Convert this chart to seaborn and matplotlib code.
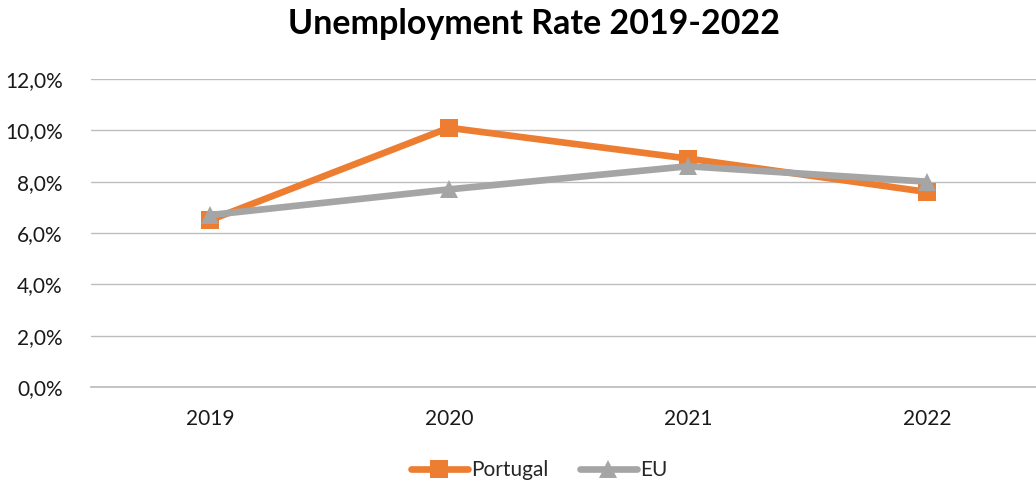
import matplotlib
matplotlib.use("Agg")
import matplotlib.pyplot as plt
import seaborn as sns
import pandas as pd
from matplotlib.ticker import FuncFormatter

years = ["2019", "2020", "2021", "2022"]
portugal = [6.5, 10.1, 8.9, 7.6]
eu = [6.7, 7.7, 8.6, 8.0]
series_names = ["Portugal", "EU"]
title = "Unemployment Rate 2019-2022"

df = pd.DataFrame({
    "year": years * 2,
    "rate": portugal + eu,
    "series": [series_names[0]] * 4 + [series_names[1]] * 4,
})

sns.set_theme(style="white")
plt.rcParams["font.family"] = ["Lato", "DejaVu Sans"]

fig = plt.figure(figsize=(10.36, 4.84), dpi=100)
ax = fig.add_axes([90.5 / 1036, 1 - 387 / 484, 956 / 1036, (387 - 79) / 484])

colors = {"Portugal": "#ED7D31", "EU": "#A5A5A5"}
sns.lineplot(data=df, x="year", y="rate", hue="series", style="series",
             markers={"Portugal": "s", "EU": "^"}, dashes=False,
             palette=colors, linewidth=4.8, markersize=12.5,
             markeredgewidth=0, ax=ax, sort=False)

ax.set_xlim(-0.5, 3.5)
ax.set_ylim(0, 12)
ax.set_yticks([0, 2, 4, 6, 8, 10, 12])
ax.yaxis.set_major_formatter(FuncFormatter(lambda v, p: f"{v:.1f}%".replace(".", ",")))
ax.grid(axis="y", color="#BDBDBD", linewidth=1)
ax.grid(axis="x", visible=False)
for s in ["top", "right", "left"]:
    ax.spines[s].set_visible(False)
ax.spines["bottom"].set_color("#BDBDBD")
ax.tick_params(axis="both", length=0, labelsize=15, colors="#1a1a1a")
ax.tick_params(axis="x", pad=16)
ax.tick_params(axis="y", pad=20)
ax.set_xlabel("")
ax.set_ylabel("")

handles, labels = ax.get_legend_handles_labels()
ax.legend(handles, labels, loc="center", bbox_to_anchor=(539 / 1036, 1 - 470 / 484),
          bbox_transform=fig.transFigure, ncol=2, frameon=False, fontsize=15,
          handlelength=2.75, handletextpad=0.15, columnspacing=1.5,
          borderpad=0, borderaxespad=0)

fig.text(534 / 1036, 1 - 24 / 484, title, ha="center", va="center",
         fontsize=24.5, fontweight="bold", color="black")

fig.savefig("out.png", dpi=100)
